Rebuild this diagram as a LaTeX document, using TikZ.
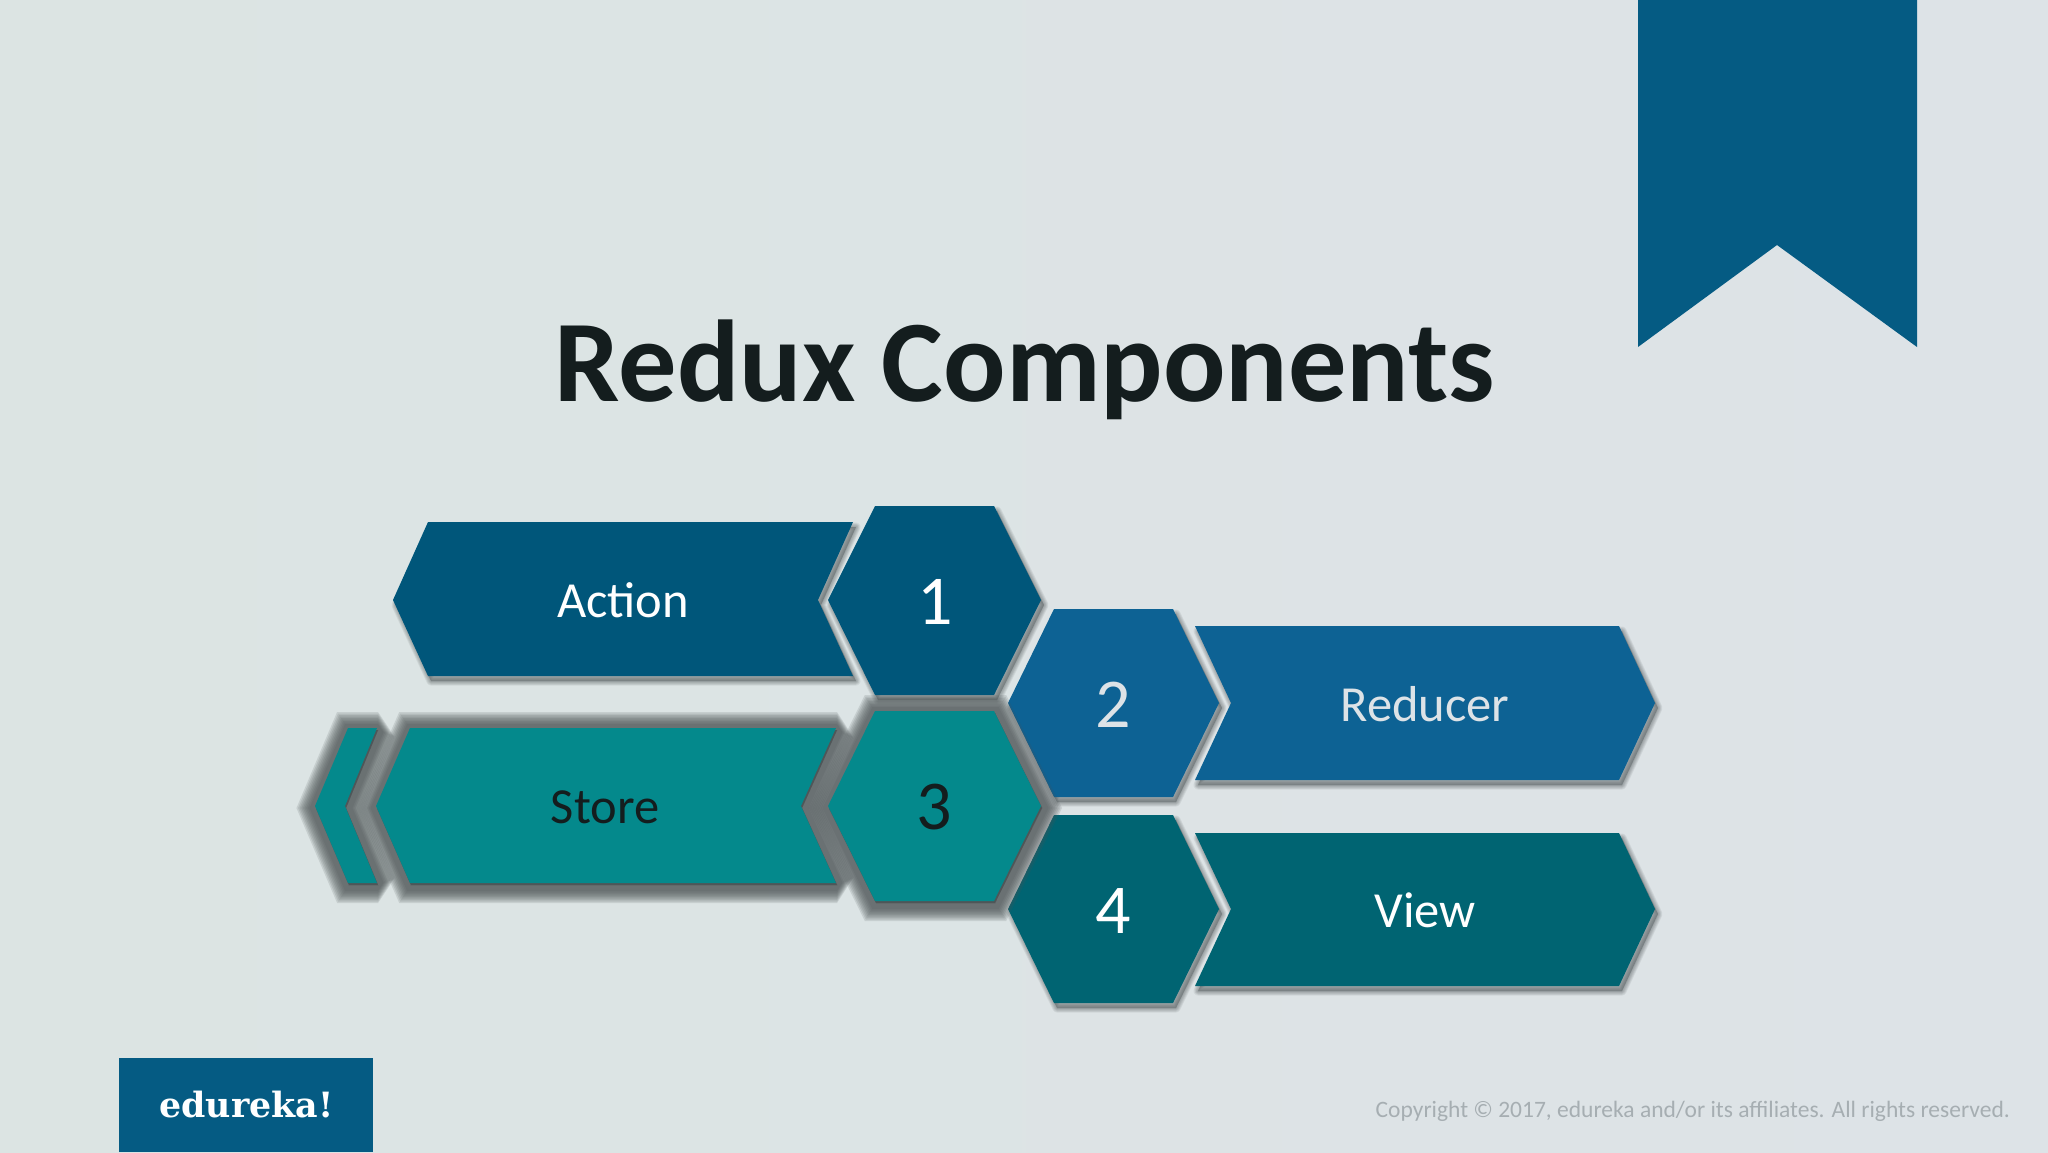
\documentclass[tikz,border=0pt]{standalone}
\usepackage{fontspec}
\setmainfont{Carlito}
\newfontfamily\logofont{DejaVu Serif}
\definecolor{bgl}{HTML}{DCE4E3}
\definecolor{bgr}{HTML}{DDE3E7}
\definecolor{actionc}{HTML}{00567A}
\definecolor{reducerc}{HTML}{0D6294}
\definecolor{viewc}{HTML}{006472}
\definecolor{storec}{HTML}{04898C}
\definecolor{brandc}{HTML}{055B83}
\definecolor{inkc}{HTML}{141D1E}
\definecolor{softc}{HTML}{50585A}
\definecolor{glowc}{HTML}{4A5153}
\definecolor{copyc}{HTML}{A6AEB2}
\definecolor{palec}{HTML}{DDE3E7}
\newcommand{\softshadow}[1]{%
  \begin{scope}[xshift=3pt,yshift=-5pt]
    \foreach \w in {9,7.5,6,4.5,3,1.5}
      \draw[softc,fill=softc,opacity=.09,line width=\w pt,line join=round] #1;
  \end{scope}}
\newcommand{\glowshadow}[1]{%
  \begin{scope}[xshift=1pt,yshift=-2pt]
    \foreach \w in {36,33,30,27,24,21,18,15,12}
      \draw[glowc,fill=glowc,opacity=.15,line width=\w pt,line join=miter,miter limit=1.3] #1;
  \end{scope}}
\tikzset{
  labeltext/.style={anchor=base,inner sep=0pt,outer sep=0pt,font=\fontsize{50.5}{50}\selectfont},
  numtext/.style={anchor=base,inner sep=0pt,outer sep=0pt,font=\fontsize{70}{70}\selectfont},
}
\begin{document}
\begin{tikzpicture}[x=1pt,y=-1pt]
\useasboundingbox (0,0) rectangle (2048,1152);
\fill[left color=bgl,right color=bgr] (0,0) rectangle (2048,1152);
% bookmark and logo
\fill[brandc] (1638,0) -- (1917,0) -- (1917,347) -- (1777,245) -- (1638,347) -- cycle;
\fill[brandc] (119,1058) rectangle (373,1152);
\node[anchor=base,inner sep=0pt,text=white] (logo) at (246.5,1117)
  {\logofont\bfseries\fontsize{34.8}{34}\selectfont edureka!};
% title
\node[anchor=base,inner sep=0pt,text=inkc] (title) at (1025,401)
  {\fontsize{116.4}{116}\selectfont\bfseries Redux Components};
% Reducer
\def\pReducer{(1195,626) -- (1619,626) -- (1655,703) -- (1619,780) -- (1195,780) -- (1231,703) -- cycle}
\softshadow{\pReducer}
\fill[reducerc] \pReducer;
\node[labeltext,text=palec] (reducer) at (1425,721) {Reducer};
% Two
\def\pTwo{(1054,609) -- (1173,609) -- (1219,703) -- (1173,797) -- (1054,797) -- (1008,703) -- cycle}
\softshadow{\pTwo}
\fill[reducerc] \pTwo;
\node[numtext,text=palec] (two) at (1113,727) {2};
% View
\def\pView{(1195,833) -- (1619,833) -- (1655,909) -- (1619,986) -- (1195,986) -- (1231,909) -- cycle}
\softshadow{\pView}
\fill[viewc] \pView;
\node[labeltext,text=white] (view) at (1425,927) {View};
% Four
\def\pFour{(1054,815) -- (1173,815) -- (1219,909) -- (1173,1003) -- (1054,1003) -- (1008,909) -- cycle}
\softshadow{\pFour}
\fill[viewc] \pFour;
\node[numtext,text=white] (four) at (1113,933) {4};
% Action
\def\pAction{(428,522) -- (853,522) -- (818,600) -- (853,676) -- (428,676) -- (393,600) -- cycle}
\softshadow{\pAction}
\fill[actionc] \pAction;
\node[labeltext,text=white] (action) at (623,617) {Action};
% One
\def\pOne{(875,506) -- (994,506) -- (1041,600) -- (994,695) -- (875,695) -- (828,600) -- cycle}
\softshadow{\pOne}
\fill[actionc] \pOne;
\node[numtext,text=white] (one) at (935,624) {1};
% Store sliver
\def\pSliver{(348,728) -- (377,728) -- (345,806) -- (377,883) -- (348,883) -- (315,806) -- cycle}
\glowshadow{\pSliver}
\fill[storec] \pSliver;
% Store
\def\pStore{(410,728) -- (836,728) -- (801,806) -- (836,883) -- (410,883) -- (376,806) -- cycle}
\glowshadow{\pStore}
\fill[storec] \pStore;
\node[labeltext,text=inkc] (store) at (605,823) {Store};
% Three
\def\pThree{(875,711) -- (994,711) -- (1041,806) -- (994,901) -- (875,901) -- (828,806) -- cycle}
\glowshadow{\pThree}
\fill[storec] \pThree;
\node[numtext,text=inkc] (three) at (934,829) {3};
% footer
\node[anchor=base east,inner sep=0pt,text=copyc] (copy) at (2010,1117)
  {\fontsize{23.5}{24}\selectfont Copyright © 2017, edureka and/or its affiliates. All rights reserved.};
\end{tikzpicture}
\end{document}
